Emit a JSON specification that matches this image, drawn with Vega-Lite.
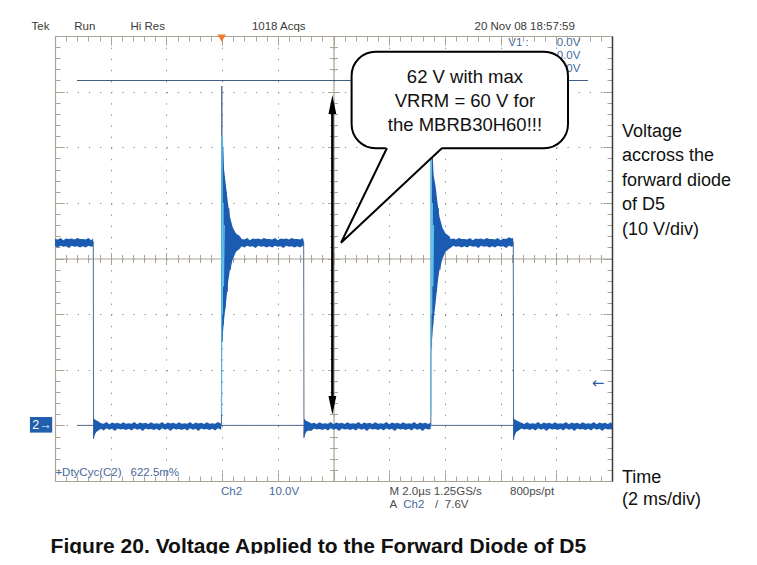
{
"$schema":"https://vega.github.io/schema/vega-lite/v6.json",
"width":557,"height":445,
"autosize":{"type":"none"},
"padding":{"left":55,"top":36,"right":145,"bottom":84},
"background":"white",
"config":{"view":{"stroke":null}},
"datasets":{
"trace":[
{"i":0,"t":0,"v":33},{"i":1,"t":1.375,"v":33},{"i":2,"t":1.385,"v":-2.4},{"i":3,"t":1.4,"v":0},
{"i":4,"t":5.975,"v":0},{"i":5,"t":5.99,"v":61},{"i":6,"t":6.0,"v":15},{"i":7,"t":6.02,"v":50},{"i":8,"t":6.04,"v":18},{"i":9,"t":6.07,"v":44},{"i":10,"t":6.1,"v":21},{"i":11,"t":6.14,"v":42},{"i":12,"t":6.18,"v":24},{"i":13,"t":6.24,"v":39},{"i":14,"t":6.3,"v":28},{"i":15,"t":6.4,"v":35},{"i":16,"t":6.5,"v":32},{"i":17,"t":6.6,"v":33},
{"i":18,"t":8.93,"v":33},{"i":19,"t":8.94,"v":-2.2},{"i":20,"t":8.955,"v":0},
{"i":21,"t":13.495,"v":0},{"i":22,"t":13.51,"v":60},{"i":23,"t":13.52,"v":14},{"i":24,"t":13.54,"v":49},{"i":25,"t":13.56,"v":18},{"i":26,"t":13.59,"v":44},{"i":27,"t":13.62,"v":21},{"i":28,"t":13.66,"v":42},{"i":29,"t":13.7,"v":24},{"i":30,"t":13.76,"v":39},{"i":31,"t":13.82,"v":28},{"i":32,"t":13.92,"v":35},{"i":33,"t":14.02,"v":32},{"i":34,"t":14.12,"v":33},
{"i":35,"t":16.455,"v":33},{"i":36,"t":16.465,"v":-2.6},{"i":37,"t":16.48,"v":0},{"i":38,"t":20,"v":0}
],
"band":[
{"s":"A","t":0,"lo":32.2,"hi":33.5},{"s":"A","t":0.1,"lo":32.0,"hi":33.4},{"s":"A","t":0.2,"lo":32.3,"hi":33.7},{"s":"A","t":0.3,"lo":32.1,"hi":33.3},{"s":"A","t":0.4,"lo":32.2,"hi":33.6},{"s":"A","t":0.5,"lo":31.9,"hi":33.5},{"s":"A","t":0.6,"lo":32.3,"hi":33.6},{"s":"A","t":0.7,"lo":32.1,"hi":33.4},{"s":"A","t":0.8,"lo":32.2,"hi":33.7},{"s":"A","t":0.9,"lo":32.0,"hi":33.5},{"s":"A","t":1.0,"lo":32.2,"hi":33.5},{"s":"A","t":1.1,"lo":32.0,"hi":33.4},{"s":"A","t":1.2,"lo":32.3,"hi":33.7},{"s":"A","t":1.3,"lo":32.1,"hi":33.3},{"s":"A","t":1.37,"lo":32.2,"hi":33.6},
{"s":"B","t":1.385,"lo":-2.4,"hi":1.4},{"s":"B","t":1.42,"lo":-1.8,"hi":1.1},{"s":"B","t":1.48,"lo":-1.2,"hi":0.9},{"s":"B","t":1.56,"lo":-0.9,"hi":0.7},
{"s":"B","t":1.65,"lo":-0.6,"hi":0.4},{"s":"B","t":1.75,"lo":-0.9,"hi":0.3},{"s":"B","t":1.85,"lo":-0.5,"hi":0.6},{"s":"B","t":1.95,"lo":-0.8,"hi":0.2},{"s":"B","t":2.05,"lo":-0.6,"hi":0.5},{"s":"B","t":2.15,"lo":-1.0,"hi":0.35},{"s":"B","t":2.25,"lo":-0.55,"hi":0.45},{"s":"B","t":2.35,"lo":-0.75,"hi":0.25},{"s":"B","t":2.45,"lo":-0.65,"hi":0.55},{"s":"B","t":2.55,"lo":-0.85,"hi":0.3},
{"s":"B","t":2.65,"lo":-0.6,"hi":0.4},{"s":"B","t":2.75,"lo":-0.9,"hi":0.3},{"s":"B","t":2.85,"lo":-0.5,"hi":0.6},{"s":"B","t":2.95,"lo":-0.8,"hi":0.2},{"s":"B","t":3.05,"lo":-0.6,"hi":0.5},{"s":"B","t":3.15,"lo":-1.0,"hi":0.35},{"s":"B","t":3.25,"lo":-0.55,"hi":0.45},{"s":"B","t":3.35,"lo":-0.75,"hi":0.25},{"s":"B","t":3.45,"lo":-0.65,"hi":0.55},{"s":"B","t":3.55,"lo":-0.85,"hi":0.3},
{"s":"B","t":3.65,"lo":-0.6,"hi":0.4},{"s":"B","t":3.75,"lo":-0.9,"hi":0.3},{"s":"B","t":3.85,"lo":-0.5,"hi":0.6},{"s":"B","t":3.95,"lo":-0.8,"hi":0.2},{"s":"B","t":4.05,"lo":-0.6,"hi":0.5},{"s":"B","t":4.15,"lo":-1.0,"hi":0.35},{"s":"B","t":4.25,"lo":-0.55,"hi":0.45},{"s":"B","t":4.35,"lo":-0.75,"hi":0.25},{"s":"B","t":4.45,"lo":-0.65,"hi":0.55},{"s":"B","t":4.55,"lo":-0.85,"hi":0.3},
{"s":"B","t":4.65,"lo":-0.6,"hi":0.4},{"s":"B","t":4.75,"lo":-0.9,"hi":0.3},{"s":"B","t":4.85,"lo":-0.5,"hi":0.6},{"s":"B","t":4.95,"lo":-0.8,"hi":0.2},{"s":"B","t":5.05,"lo":-0.6,"hi":0.5},{"s":"B","t":5.15,"lo":-1.0,"hi":0.35},{"s":"B","t":5.25,"lo":-0.55,"hi":0.45},{"s":"B","t":5.35,"lo":-0.75,"hi":0.25},{"s":"B","t":5.45,"lo":-0.65,"hi":0.55},{"s":"B","t":5.55,"lo":-0.85,"hi":0.3},
{"s":"B","t":5.65,"lo":-0.6,"hi":0.4},{"s":"B","t":5.75,"lo":-0.9,"hi":0.3},{"s":"B","t":5.85,"lo":-0.5,"hi":0.6},{"s":"B","t":5.97,"lo":-0.8,"hi":0.3},
{"s":"C","t":5.98,"lo":14,"hi":50},{"s":"C","t":6.02,"lo":16,"hi":52},{"s":"C","t":6.07,"lo":19,"hi":46},{"s":"C","t":6.14,"lo":22,"hi":43},{"s":"C","t":6.21,"lo":25.5,"hi":40},{"s":"C","t":6.28,"lo":28,"hi":37.5},{"s":"C","t":6.39,"lo":30,"hi":35.5},{"s":"C","t":6.5,"lo":31.2,"hi":34.5},{"s":"C","t":6.64,"lo":31.8,"hi":34.0},
{"s":"C","t":6.7,"lo":32.2,"hi":33.5},{"s":"C","t":6.8,"lo":32.0,"hi":33.4},{"s":"C","t":6.9,"lo":32.3,"hi":33.7},{"s":"C","t":7.0,"lo":32.1,"hi":33.3},{"s":"C","t":7.1,"lo":32.2,"hi":33.6},{"s":"C","t":7.2,"lo":31.9,"hi":33.5},{"s":"C","t":7.3,"lo":32.3,"hi":33.6},{"s":"C","t":7.4,"lo":32.1,"hi":33.4},{"s":"C","t":7.5,"lo":32.2,"hi":33.7},{"s":"C","t":7.6,"lo":32.0,"hi":33.5},
{"s":"C","t":7.7,"lo":32.2,"hi":33.5},{"s":"C","t":7.8,"lo":32.0,"hi":33.4},{"s":"C","t":7.9,"lo":32.3,"hi":33.7},{"s":"C","t":8.0,"lo":32.1,"hi":33.3},{"s":"C","t":8.1,"lo":32.2,"hi":33.6},{"s":"C","t":8.2,"lo":31.9,"hi":33.5},{"s":"C","t":8.3,"lo":32.3,"hi":33.6},{"s":"C","t":8.4,"lo":32.1,"hi":33.4},{"s":"C","t":8.5,"lo":32.2,"hi":33.7},{"s":"C","t":8.6,"lo":32.0,"hi":33.5},
{"s":"C","t":8.7,"lo":32.2,"hi":33.5},{"s":"C","t":8.8,"lo":32.0,"hi":33.4},{"s":"C","t":8.9,"lo":32.3,"hi":33.7},{"s":"C","t":8.925,"lo":32.1,"hi":33.3},
{"s":"D","t":8.94,"lo":-2.2,"hi":1.3},{"s":"D","t":8.975,"lo":-1.7,"hi":1.0},{"s":"D","t":9.03,"lo":-1.1,"hi":0.8},{"s":"D","t":9.12,"lo":-0.9,"hi":0.6},
{"s":"D","t":9.2,"lo":-1.0,"hi":0.35},{"s":"D","t":9.3,"lo":-0.55,"hi":0.45},{"s":"D","t":9.4,"lo":-0.75,"hi":0.25},{"s":"D","t":9.5,"lo":-0.65,"hi":0.55},{"s":"D","t":9.6,"lo":-0.85,"hi":0.3},{"s":"D","t":9.7,"lo":-0.6,"hi":0.4},{"s":"D","t":9.8,"lo":-0.9,"hi":0.3},{"s":"D","t":9.9,"lo":-0.5,"hi":0.6},{"s":"D","t":10.0,"lo":-0.8,"hi":0.2},{"s":"D","t":10.1,"lo":-0.6,"hi":0.5},
{"s":"D","t":10.2,"lo":-1.0,"hi":0.35},{"s":"D","t":10.3,"lo":-0.55,"hi":0.45},{"s":"D","t":10.4,"lo":-0.75,"hi":0.25},{"s":"D","t":10.5,"lo":-0.65,"hi":0.55},{"s":"D","t":10.6,"lo":-0.85,"hi":0.3},{"s":"D","t":10.7,"lo":-0.6,"hi":0.4},{"s":"D","t":10.8,"lo":-0.9,"hi":0.3},{"s":"D","t":10.9,"lo":-0.5,"hi":0.6},{"s":"D","t":11.0,"lo":-0.8,"hi":0.2},{"s":"D","t":11.1,"lo":-0.6,"hi":0.5},
{"s":"D","t":11.2,"lo":-1.0,"hi":0.35},{"s":"D","t":11.3,"lo":-0.55,"hi":0.45},{"s":"D","t":11.4,"lo":-0.75,"hi":0.25},{"s":"D","t":11.5,"lo":-0.65,"hi":0.55},{"s":"D","t":11.6,"lo":-0.85,"hi":0.3},{"s":"D","t":11.7,"lo":-0.6,"hi":0.4},{"s":"D","t":11.8,"lo":-0.9,"hi":0.3},{"s":"D","t":11.9,"lo":-0.5,"hi":0.6},{"s":"D","t":12.0,"lo":-0.8,"hi":0.2},{"s":"D","t":12.1,"lo":-0.6,"hi":0.5},
{"s":"D","t":12.2,"lo":-1.0,"hi":0.35},{"s":"D","t":12.3,"lo":-0.55,"hi":0.45},{"s":"D","t":12.4,"lo":-0.75,"hi":0.25},{"s":"D","t":12.5,"lo":-0.65,"hi":0.55},{"s":"D","t":12.6,"lo":-0.85,"hi":0.3},{"s":"D","t":12.7,"lo":-0.6,"hi":0.4},{"s":"D","t":12.8,"lo":-0.9,"hi":0.3},{"s":"D","t":12.9,"lo":-0.5,"hi":0.6},{"s":"D","t":13.0,"lo":-0.8,"hi":0.2},{"s":"D","t":13.1,"lo":-0.6,"hi":0.5},
{"s":"D","t":13.2,"lo":-1.0,"hi":0.35},{"s":"D","t":13.3,"lo":-0.55,"hi":0.45},{"s":"D","t":13.4,"lo":-0.75,"hi":0.25},{"s":"D","t":13.49,"lo":-0.65,"hi":0.5},
{"s":"E","t":13.505,"lo":13,"hi":49},{"s":"E","t":13.545,"lo":16,"hi":50},{"s":"E","t":13.595,"lo":19,"hi":45},{"s":"E","t":13.665,"lo":22,"hi":43},{"s":"E","t":13.735,"lo":25.5,"hi":40},{"s":"E","t":13.805,"lo":28,"hi":37.5},{"s":"E","t":13.915,"lo":30,"hi":35.5},{"s":"E","t":14.025,"lo":31.2,"hi":34.5},{"s":"E","t":14.165,"lo":31.8,"hi":34.0},
{"s":"E","t":14.2,"lo":31.9,"hi":33.5},{"s":"E","t":14.3,"lo":32.3,"hi":33.6},{"s":"E","t":14.4,"lo":32.1,"hi":33.4},{"s":"E","t":14.5,"lo":32.2,"hi":33.7},{"s":"E","t":14.6,"lo":32.0,"hi":33.5},{"s":"E","t":14.7,"lo":32.2,"hi":33.5},{"s":"E","t":14.8,"lo":32.0,"hi":33.4},{"s":"E","t":14.9,"lo":32.3,"hi":33.7},{"s":"E","t":15.0,"lo":32.1,"hi":33.3},{"s":"E","t":15.1,"lo":32.2,"hi":33.6},
{"s":"E","t":15.2,"lo":31.9,"hi":33.5},{"s":"E","t":15.3,"lo":32.3,"hi":33.6},{"s":"E","t":15.4,"lo":32.1,"hi":33.4},{"s":"E","t":15.5,"lo":32.2,"hi":33.7},{"s":"E","t":15.6,"lo":32.0,"hi":33.5},{"s":"E","t":15.7,"lo":32.2,"hi":33.5},{"s":"E","t":15.8,"lo":32.0,"hi":33.4},{"s":"E","t":15.9,"lo":32.3,"hi":33.7},{"s":"E","t":16.0,"lo":32.1,"hi":33.3},{"s":"E","t":16.1,"lo":32.2,"hi":33.6},
{"s":"E","t":16.2,"lo":31.9,"hi":33.5},{"s":"E","t":16.3,"lo":32.3,"hi":33.8},{"s":"E","t":16.4,"lo":32.1,"hi":33.6},{"s":"E","t":16.45,"lo":32.2,"hi":33.7},
{"s":"F","t":16.465,"lo":-2.6,"hi":1.4},{"s":"F","t":16.5,"lo":-1.9,"hi":1.1},{"s":"F","t":16.56,"lo":-1.2,"hi":0.9},{"s":"F","t":16.65,"lo":-0.9,"hi":0.7},
{"s":"F","t":16.75,"lo":-0.55,"hi":0.45},{"s":"F","t":16.85,"lo":-0.75,"hi":0.25},{"s":"F","t":16.95,"lo":-0.65,"hi":0.55},{"s":"F","t":17.05,"lo":-0.85,"hi":0.3},{"s":"F","t":17.15,"lo":-0.6,"hi":0.4},{"s":"F","t":17.25,"lo":-0.9,"hi":0.3},{"s":"F","t":17.35,"lo":-0.5,"hi":0.6},{"s":"F","t":17.45,"lo":-0.8,"hi":0.2},{"s":"F","t":17.55,"lo":-0.6,"hi":0.5},{"s":"F","t":17.65,"lo":-1.0,"hi":0.35},
{"s":"F","t":17.75,"lo":-0.55,"hi":0.45},{"s":"F","t":17.85,"lo":-0.75,"hi":0.25},{"s":"F","t":17.95,"lo":-0.65,"hi":0.55},{"s":"F","t":18.05,"lo":-0.85,"hi":0.3},{"s":"F","t":18.15,"lo":-0.6,"hi":0.4},{"s":"F","t":18.25,"lo":-0.9,"hi":0.3},{"s":"F","t":18.35,"lo":-0.5,"hi":0.6},{"s":"F","t":18.45,"lo":-0.8,"hi":0.2},{"s":"F","t":18.55,"lo":-0.6,"hi":0.5},{"s":"F","t":18.65,"lo":-1.0,"hi":0.35},
{"s":"F","t":18.75,"lo":-0.55,"hi":0.45},{"s":"F","t":18.85,"lo":-0.75,"hi":0.25},{"s":"F","t":18.95,"lo":-0.65,"hi":0.55},{"s":"F","t":19.05,"lo":-0.85,"hi":0.3},{"s":"F","t":19.15,"lo":-0.6,"hi":0.4},{"s":"F","t":19.25,"lo":-0.9,"hi":0.3},{"s":"F","t":19.35,"lo":-0.5,"hi":0.6},{"s":"F","t":19.45,"lo":-0.8,"hi":0.2},{"s":"F","t":19.55,"lo":-0.6,"hi":0.5},{"s":"F","t":19.65,"lo":-1.0,"hi":0.35},
{"s":"F","t":19.75,"lo":-0.55,"hi":0.45},{"s":"F","t":19.85,"lo":-0.75,"hi":0.25},{"s":"F","t":19.95,"lo":-0.65,"hi":0.55},{"s":"F","t":20.0,"lo":-0.85,"hi":0.3}
],
"cyan":[
{"s":"1","i":0,"t":5.985,"v":2},{"s":"1","i":1,"t":5.995,"v":52},{"s":"1","i":2,"t":6.01,"v":20},{"s":"1","i":3,"t":6.03,"v":40},{"s":"1","i":4,"t":6.05,"v":25},{"s":"1","i":5,"t":6.08,"v":36},
{"s":"2","i":0,"t":13.5,"v":2},{"s":"2","i":1,"t":13.51,"v":50},{"s":"2","i":2,"t":13.525,"v":20},{"s":"2","i":3,"t":13.545,"v":40},{"s":"2","i":4,"t":13.565,"v":25},{"s":"2","i":5,"t":13.595,"v":36}
],
"refs":[{"k":"gnd","t":0.79,"t2":20,"v":0},{"k":"cur","t":0.79,"t2":19.14,"v":62}],
"heads":[
{"h":"top","t":9.82,"lo":56.0,"hi":56.0},{"h":"top","t":9.96,"lo":56.0,"hi":59.4},{"h":"top","t":10.1,"lo":56.0,"hi":56.0},
{"h":"bot","t":9.82,"lo":5.3,"hi":5.3},{"h":"bot","t":9.96,"lo":1.9,"hi":5.3},{"h":"bot","t":10.1,"lo":5.3,"hi":5.3}
],
"tail":[{"t":10.27,"lo":32.83,"hi":32.83},{"t":11.92,"lo":40.57,"hi":50.3},{"t":13.9,"lo":49.87,"hi":50.3}],
"tailline":[{"i":0,"t":11.92,"v":49.87},{"i":1,"t":10.27,"v":32.83},{"i":2,"t":13.9,"v":49.87}],
"txt":[
{"g":"hdr","t":-0.84,"v":71.53,"s":"Tek"},
{"g":"hdr","t":0.693,"v":71.53,"s":"Run"},
{"g":"hdr","t":2.711,"v":71.53,"s":"Hi Res"},
{"g":"hdr","t":7.07,"v":71.53,"s":"1018 Acqs"},
{"g":"hdr","t":15.063,"v":71.53,"s":"20 Nov 08 18:57:59"},
{"g":"sb","t":0.014,"v":-8.56,"s":"+DtyCyc(C2)"},
{"g":"sb","t":2.711,"v":-8.56,"s":"622.5m%"},
{"g":"sb","t":5.961,"v":-11.98,"s":"Ch2"},
{"g":"sb","t":7.684,"v":-11.98,"s":"10.0V"},
{"g":"sb","t":12.506,"v":-14.32,"s":"Ch2"},
{"g":"sb","t":16.277,"v":68.74,"s":"V1 :"},
{"g":"sb","t":18.014,"v":68.74,"s":"0.0V"},
{"g":"sb","t":18.014,"v":66.45,"s":"0.0V"},
{"g":"sb","t":18.014,"v":64.15,"s":"0.0V"},
{"g":"sg","t":12.011,"v":-11.98,"s":"M 2.0µs 1.25GS/s"},
{"g":"sg","t":16.338,"v":-11.98,"s":"800ps/pt"},
{"g":"sg","t":12.011,"v":-14.32,"s":"A"},
{"g":"sg","t":13.645,"v":-14.32,"s":"/"},
{"g":"sg","t":13.996,"v":-14.32,"s":"7.6V"},
{"g":"sd","t":20.36,"v":51.84,"s":"Voltage"},
{"g":"sd","t":20.36,"v":47.44,"s":"accross the"},
{"g":"sd","t":20.36,"v":43.03,"s":"forward diode"},
{"g":"sd","t":20.36,"v":38.63,"s":"of D5"},
{"g":"sd","t":20.36,"v":34.22,"s":"(10 V/div)"},
{"g":"sd","t":20.36,"v":-10.36,"s":"Time"},
{"g":"sd","t":20.36,"v":-14.4,"s":"(2 ms/div)"},
{"g":"co","t":14.72,"v":61.55,"s":"62 V with max"},
{"g":"co","t":14.72,"v":57.24,"s":"VRRM = 60 V for"},
{"g":"co","t":14.72,"v":52.92,"s":"the MBRB30H60!!!"},
{"g":"cap","t":-0.158,"v":-22.94,"s":"Figure 20. Voltage Applied to the Forward Diode of D5"},
{"g":"mk","t":-0.47,"v":0.15,"s":"2→"},
{"g":"ra","t":19.5,"v":7.6,"s":"←"}
]
},
"layer":[
{"data":{"name":"trace"},"mark":{"type":"line","color":"#4f6d8c","strokeWidth":1},
 "encoding":{
  "x":{"field":"t","type":"quantitative","scale":{"domain":[0,20],"nice":false,"zero":false},
   "axis":{"orient":"bottom","values":[0,2,4,6,8,10,12,14,16,18,20],"grid":true,"gridDash":[1.3,9.83],"gridColor":"#8c8c8c","gridWidth":1,"domain":false,"ticks":false,"labels":false,"title":null}},
  "y":{"field":"v","type":"quantitative","scale":{"domain":[-10,70],"nice":false,"zero":false},
   "axis":{"orient":"left","values":[-10,0,10,20,30,40,50,60,70],"grid":true,"gridDash":[1.3,9.83],"gridColor":"#8c8c8c","gridWidth":1,"domain":false,"ticks":false,"labels":false,"title":null}},
  "order":{"field":"i","type":"quantitative"}}},
{"data":{"name":"refs"},"transform":[{"filter":"datum.k==='gnd'"}],"mark":{"type":"rule","color":"#4f6d8c","strokeWidth":1},
 "encoding":{
  "x":{"field":"t","type":"quantitative","scale":{"domain":[0,20],"nice":false,"zero":false},
   "axis":{"orient":"bottom","offset":-222.5,"values":[0,0.4,0.8,1.2,1.6,2,2.4,2.8,3.2,3.6,4,4.4,4.8,5.2,5.6,6,6.4,6.8,7.2,7.6,8,8.4,8.8,9.2,9.6,10,10.4,10.8,11.2,11.6,12,12.4,12.8,13.2,13.6,14,14.4,14.8,15.2,15.6,16,16.4,16.8,17.2,17.6,18,18.4,18.8,19.2,19.6,20],"domain":true,"domainColor":"#aaa396","domainWidth":1.2,"ticks":true,"tickColor":"#aaa396","tickWidth":1,"tickSize":{"condition":{"test":"abs(datum.value/2-round(datum.value/2))<0.01","value":6},"value":4},"labels":false,"title":null,"grid":false}},
  "x2":{"field":"t2"},
  "y":{"field":"v","type":"quantitative","scale":{"domain":[-10,70],"nice":false,"zero":false},
   "axis":{"orient":"left","offset":-278.5,"values":[-10,-8,-6,-4,-2,0,2,4,6,8,10,12,14,16,18,20,22,24,26,28,30,32,34,36,38,40,42,44,46,48,50,52,54,56,58,60,62,64,66,68,70],"domain":true,"domainColor":"#aaa396","domainWidth":1.2,"ticks":true,"tickColor":"#aaa396","tickWidth":1,"tickSize":{"condition":{"test":"abs(datum.value/10-round(datum.value/10))<0.01","value":6},"value":4},"labels":false,"title":null,"grid":false}}}},
{"data":{"name":"refs"},"transform":[{"filter":"datum.k==='cur'"}],"mark":{"type":"rule","color":"#3f5f82","strokeWidth":1.2},
 "encoding":{
  "x":{"field":"t","type":"quantitative","scale":{"domain":[0,20],"nice":false,"zero":false},
   "axis":{"orient":"top","offset":-222.5,"values":[0,0.4,0.8,1.2,1.6,2,2.4,2.8,3.2,3.6,4,4.4,4.8,5.2,5.6,6,6.4,6.8,7.2,7.6,8,8.4,8.8,9.2,9.6,10,10.4,10.8,11.2,11.6,12,12.4,12.8,13.2,13.6,14,14.4,14.8,15.2,15.6,16,16.4,16.8,17.2,17.6,18,18.4,18.8,19.2,19.6,20],"domain":false,"ticks":true,"tickColor":"#aaa396","tickWidth":1,"tickSize":{"condition":{"test":"abs(datum.value/2-round(datum.value/2))<0.01","value":6},"value":4},"labels":false,"title":null,"grid":false}},
  "x2":{"field":"t2"},
  "y":{"field":"v","type":"quantitative","scale":{"domain":[-10,70],"nice":false,"zero":false},
   "axis":{"orient":"right","offset":-278.5,"values":[-10,-8,-6,-4,-2,0,2,4,6,8,10,12,14,16,18,20,22,24,26,28,30,32,34,36,38,40,42,44,46,48,50,52,54,56,58,60,62,64,66,68,70],"domain":false,"ticks":true,"tickColor":"#aaa396","tickWidth":1,"tickSize":{"condition":{"test":"abs(datum.value/10-round(datum.value/10))<0.01","value":6},"value":4},"labels":false,"title":null,"grid":false}}}},
{"data":{"name":"band"},"mark":{"type":"area","color":"#1b5cb2","opacity":1,"interpolate":"linear"},
 "encoding":{
  "x":{"field":"t","type":"quantitative","scale":{"domain":[0,20],"nice":false,"zero":false},
   "axis":{"orient":"bottom","values":[0,0.4,0.8,1.2,1.6,2,2.4,2.8,3.2,3.6,4,4.4,4.8,5.2,5.6,6,6.4,6.8,7.2,7.6,8,8.4,8.8,9.2,9.6,10,10.4,10.8,11.2,11.6,12,12.4,12.8,13.2,13.6,14,14.4,14.8,15.2,15.6,16,16.4,16.8,17.2,17.6,18,18.4,18.8,19.2,19.6,20],"domain":true,"domainColor":"#aaa396","domainWidth":1.2,"ticks":true,"tickColor":"#aaa396","tickWidth":1,"tickSize":{"condition":{"test":"abs(datum.value/2-round(datum.value/2))<0.01","value":-9},"value":-5},"labels":false,"title":null,"grid":false}},
  "y":{"field":"lo","type":"quantitative","scale":{"domain":[-10,70],"nice":false,"zero":false},
   "axis":{"orient":"left","values":[-10,-8,-6,-4,-2,0,2,4,6,8,10,12,14,16,18,20,22,24,26,28,30,32,34,36,38,40,42,44,46,48,50,52,54,56,58,60,62,64,66,68,70],"domain":true,"domainColor":"#aaa396","domainWidth":1.2,"ticks":true,"tickColor":"#aaa396","tickWidth":1,"tickSize":{"condition":{"test":"abs(datum.value/10-round(datum.value/10))<0.01","value":-9},"value":-5},"labels":false,"title":null,"grid":false}},
  "y2":{"field":"hi"},
  "detail":{"field":"s","type":"nominal"}}},
{"data":{"name":"cyan"},"mark":{"type":"line","color":"#5cc6ee","strokeWidth":1},
 "encoding":{
  "x":{"field":"t","type":"quantitative","scale":{"domain":[0,20],"nice":false,"zero":false},
   "axis":{"orient":"top","values":[0,0.4,0.8,1.2,1.6,2,2.4,2.8,3.2,3.6,4,4.4,4.8,5.2,5.6,6,6.4,6.8,7.2,7.6,8,8.4,8.8,9.2,9.6,10,10.4,10.8,11.2,11.6,12,12.4,12.8,13.2,13.6,14,14.4,14.8,15.2,15.6,16,16.4,16.8,17.2,17.6,18,18.4,18.8,19.2,19.6,20],"domain":true,"domainColor":"#aaa396","domainWidth":1.2,"ticks":true,"tickColor":"#aaa396","tickWidth":1,"tickSize":{"condition":{"test":"abs(datum.value/2-round(datum.value/2))<0.01","value":-9},"value":-5},"labels":false,"title":null,"grid":false}},
  "y":{"field":"v","type":"quantitative","scale":{"domain":[-10,70],"nice":false,"zero":false},
   "axis":{"orient":"right","values":[-10,-8,-6,-4,-2,0,2,4,6,8,10,12,14,16,18,20,22,24,26,28,30,32,34,36,38,40,42,44,46,48,50,52,54,56,58,60,62,64,66,68,70],"domain":true,"domainColor":"#3a3a3a","domainWidth":1.5,"ticks":true,"tickColor":"#aaa396","tickWidth":1,"tickSize":{"condition":{"test":"abs(datum.value/10-round(datum.value/10))<0.01","value":-9},"value":-5},"labels":false,"title":null,"grid":false}},
  "detail":{"field":"s","type":"nominal"},
  "order":{"field":"i","type":"quantitative"}}},
{"data":{"values":[{"t":5.986,"v":69.6}]},"mark":{"type":"point","shape":"triangle-down","filled":true,"color":"#f07b2b","size":70,"opacity":1},
 "encoding":{"x":{"field":"t","type":"quantitative","scale":{"domain":[0,20],"nice":false,"zero":false},"axis":null},
  "y":{"field":"v","type":"quantitative","scale":{"domain":[-10,70],"nice":false,"zero":false},"axis":null}}},
{"data":{"values":[{"t":-0.9,"t2":-0.1,"v":1.5,"v2":-1.3}]},"mark":{"type":"rect","color":"#1f5fae"},
 "encoding":{"x":{"field":"t","type":"quantitative","scale":{"domain":[0,20],"nice":false,"zero":false},"axis":null},"x2":{"field":"t2"},
  "y":{"field":"v","type":"quantitative","scale":{"domain":[-10,70],"nice":false,"zero":false},"axis":null},"y2":{"field":"v2"}}},
{"data":{"name":"txt"},"transform":[{"filter":"datum.g==='mk'"}],"mark":{"type":"text","color":"white","font":"Liberation Sans","fontSize":12.5,"align":"center","baseline":"middle"},
 "encoding":{"x":{"field":"t","type":"quantitative","scale":{"domain":[0,20],"nice":false,"zero":false},"axis":null},
  "y":{"field":"v","type":"quantitative","scale":{"domain":[-10,70],"nice":false,"zero":false},"axis":null},"text":{"field":"s"}}},
{"data":{"name":"txt"},"transform":[{"filter":"datum.g==='ra'"}],"mark":{"type":"text","color":"#2d5e9e","font":"DejaVu Sans","fontSize":15,"align":"center","baseline":"middle"},
 "encoding":{"x":{"field":"t","type":"quantitative","scale":{"domain":[0,20],"nice":false,"zero":false},"axis":null},
  "y":{"field":"v","type":"quantitative","scale":{"domain":[-10,70],"nice":false,"zero":false},"axis":null},"text":{"field":"s"}}},
{"data":{"name":"txt"},"transform":[{"filter":"datum.g==='hdr'"}],"mark":{"type":"text","color":"#3a3a3a","font":"Liberation Sans","fontSize":11.5,"align":"left","baseline":"middle"},
 "encoding":{"x":{"field":"t","type":"quantitative","scale":{"domain":[0,20],"nice":false,"zero":false},"axis":null},
  "y":{"field":"v","type":"quantitative","scale":{"domain":[-10,70],"nice":false,"zero":false},"axis":null},"text":{"field":"s"}}},
{"data":{"name":"txt"},"transform":[{"filter":"datum.g==='sb'"}],"mark":{"type":"text","color":"#47699a","font":"Liberation Sans","fontSize":11.5,"align":"left","baseline":"middle"},
 "encoding":{"x":{"field":"t","type":"quantitative","scale":{"domain":[0,20],"nice":false,"zero":false},"axis":null},
  "y":{"field":"v","type":"quantitative","scale":{"domain":[-10,70],"nice":false,"zero":false},"axis":null},"text":{"field":"s"}}},
{"data":{"name":"txt"},"transform":[{"filter":"datum.g==='sg'"}],"mark":{"type":"text","color":"#4a4a4a","font":"Liberation Sans","fontSize":11.5,"align":"left","baseline":"middle"},
 "encoding":{"x":{"field":"t","type":"quantitative","scale":{"domain":[0,20],"nice":false,"zero":false},"axis":null},
  "y":{"field":"v","type":"quantitative","scale":{"domain":[-10,70],"nice":false,"zero":false},"axis":null},"text":{"field":"s"}}},
{"data":{"values":[{"t":9.96,"v":57,"v2":4}]},"mark":{"type":"rule","color":"black","strokeWidth":2.5},
 "encoding":{"x":{"field":"t","type":"quantitative","scale":{"domain":[0,20],"nice":false,"zero":false},"axis":null},
  "y":{"field":"v","type":"quantitative","scale":{"domain":[-10,70],"nice":false,"zero":false},"axis":null},"y2":{"field":"v2"}}},
{"data":{"name":"heads"},"mark":{"type":"area","color":"black","opacity":1},
 "encoding":{"x":{"field":"t","type":"quantitative","scale":{"domain":[0,20],"nice":false,"zero":false},"axis":null},
  "y":{"field":"lo","type":"quantitative","scale":{"domain":[-10,70],"nice":false,"zero":false},"axis":null},"y2":{"field":"hi"},
  "detail":{"field":"h","type":"nominal"}}},
{"data":{"values":[{"t":10.65,"t2":18.42,"v":67.18,"v2":49.81}]},"mark":{"type":"rect","fill":"white","stroke":"black","strokeWidth":2,"cornerRadius":24},
 "encoding":{"x":{"field":"t","type":"quantitative","scale":{"domain":[0,20],"nice":false,"zero":false},"axis":null},"x2":{"field":"t2"},
  "y":{"field":"v","type":"quantitative","scale":{"domain":[-10,70],"nice":false,"zero":false},"axis":null},"y2":{"field":"v2"}}},
{"data":{"name":"tail"},"mark":{"type":"area","color":"white","opacity":1},
 "encoding":{"x":{"field":"t","type":"quantitative","scale":{"domain":[0,20],"nice":false,"zero":false},"axis":null},
  "y":{"field":"lo","type":"quantitative","scale":{"domain":[-10,70],"nice":false,"zero":false},"axis":null},"y2":{"field":"hi"}}},
{"data":{"name":"tailline"},"mark":{"type":"line","color":"black","strokeWidth":2},
 "encoding":{"x":{"field":"t","type":"quantitative","scale":{"domain":[0,20],"nice":false,"zero":false},"axis":null},
  "y":{"field":"v","type":"quantitative","scale":{"domain":[-10,70],"nice":false,"zero":false},"axis":null},
  "order":{"field":"i","type":"quantitative"}}},
{"data":{"name":"txt"},"transform":[{"filter":"datum.g==='co'"}],"mark":{"type":"text","color":"#111111","font":"Liberation Sans","fontSize":18.5,"align":"center","baseline":"alphabetic"},
 "encoding":{"x":{"field":"t","type":"quantitative","scale":{"domain":[0,20],"nice":false,"zero":false},"axis":null},
  "y":{"field":"v","type":"quantitative","scale":{"domain":[-10,70],"nice":false,"zero":false},"axis":null},"text":{"field":"s"}}},
{"data":{"name":"txt"},"transform":[{"filter":"datum.g==='sd'"}],"mark":{"type":"text","color":"#111111","font":"Liberation Sans","fontSize":18,"align":"left","baseline":"alphabetic"},
 "encoding":{"x":{"field":"t","type":"quantitative","scale":{"domain":[0,20],"nice":false,"zero":false},"axis":null},
  "y":{"field":"v","type":"quantitative","scale":{"domain":[-10,70],"nice":false,"zero":false},"axis":null},"text":{"field":"s"}}},
{"data":{"name":"txt"},"transform":[{"filter":"datum.g==='cap'"}],"mark":{"type":"text","color":"#111111","font":"Liberation Sans","fontWeight":"bold","fontSize":21,"align":"left","baseline":"alphabetic"},
 "encoding":{"x":{"field":"t","type":"quantitative","scale":{"domain":[0,20],"nice":false,"zero":false},"axis":null},
  "y":{"field":"v","type":"quantitative","scale":{"domain":[-10,70],"nice":false,"zero":false},"axis":null},"text":{"field":"s"}}},
{"data":{"values":[{"t":-3,"t2":26,"v":-23.1,"v2":-30}]},"mark":{"type":"rect","color":"white","opacity":1},
 "encoding":{"x":{"field":"t","type":"quantitative","scale":{"domain":[0,20],"nice":false,"zero":false},"axis":null},"x2":{"field":"t2"},
  "y":{"field":"v","type":"quantitative","scale":{"domain":[-10,70],"nice":false,"zero":false},"axis":null},"y2":{"field":"v2"}}}
],
"resolve":{"axis":{"x":"independent","y":"independent"}}
}
